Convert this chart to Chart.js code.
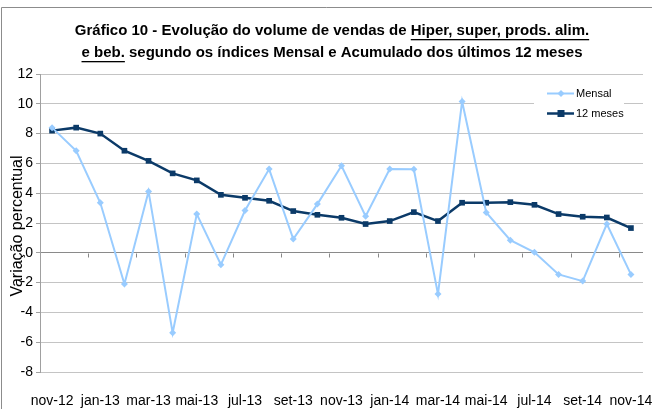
<!DOCTYPE html>
<html>
<head>
<meta charset="utf-8">
<script src="https://cdn.jsdelivr.net/npm/chart.js@4.4.1/dist/chart.umd.min.js"></script>
<style>
html,body{margin:0;padding:0;background:#fff;}
#wrap{position:relative;width:652px;height:409px;}
</style>
</head>
<body>
<div id="wrap"><canvas id="c" width="652" height="409"></canvas></div>
<script>
const categories = ["nov-12","dez-12","jan-13","fev-13","mar-13","abr-13","mai-13","jun-13","jul-13","ago-13","set-13","out-13","nov-13","dez-13","jan-14","fev-14","mar-14","abr-14","mai-14","jun-14","jul-14","ago-14","set-14","out-14","nov-14"];
const mensal = [8.4,6.85,3.36,-2.1,4.12,-5.37,2.6,-0.8,2.84,5.62,0.92,3.27,5.84,2.46,5.62,5.6,-2.77,10.16,2.71,0.85,0.03,-1.45,-1.9,1.93,-1.45];
const meses12 = [8.2,8.4,8.0,6.85,6.17,5.33,4.86,3.89,3.69,3.49,2.8,2.55,2.35,1.93,2.13,2.73,2.13,3.36,3.36,3.4,3.22,2.6,2.42,2.37,1.66];
const yTicks = [12,10,8,6,4,2,0,-2,-4,-6,-8];
const titleLine1 = [["Gráfico 10 - Evolução do volume de vendas de ", false],["Hiper, super, prods. alim.", true]];
const titleLine2 = [["e beb.", true],[" segundo os índices Mensal e Acumulado dos últimos 12 meses", false]];
const yTitle = "Variação percentual";
const seriesNames = ["Mensal","12 meses"];

const FONT = "Arial, 'Liberation Sans', sans-serif";
const LIGHT = "#99ccff";
const DARK = "#0b3a68";

const decor = {
  id: 'decor',
  beforeDraw(chart){
    const ctx = chart.ctx;
    ctx.save();
    ctx.fillStyle = '#fff';
    ctx.fillRect(0,0,chart.width,chart.height);
    ctx.strokeStyle = '#8c8c8c';
    ctx.lineWidth = 1;
    ctx.beginPath();
    ctx.moveTo(1.5,409); ctx.lineTo(1.5,7.5); ctx.lineTo(652,7.5);
    ctx.stroke();
    ctx.restore();
  },
  afterDatasetsDraw(chart){
    const ctx = chart.ctx;
    const x = chart.scales.x, y = chart.scales.y;
    ctx.save();
    const y0 = Math.round(y.getPixelForValue(0)) + 0.5;
    ctx.strokeStyle = '#888';
    ctx.lineWidth = 1;
    ctx.beginPath();
    for (let i = 1; i + 1 < categories.length; i += 2) {
      const px = Math.round((x.getPixelForValue(i) + x.getPixelForValue(i+1)) / 2) + 0.5;
      ctx.moveTo(px, y0); ctx.lineTo(px, y0 + 4);
    }
    ctx.stroke();
    ctx.restore();
  },
  afterDraw(chart){
    const ctx = chart.ctx;
    ctx.save();
    ctx.font = "bold 15px " + FONT;
    ctx.fillStyle = '#000';
    ctx.textBaseline = 'middle';
    const drawLine = (segs, cy) => {
      const total = segs.reduce((s, g) => s + ctx.measureText(g[0]).width, 0);
      let cx = 332 - total / 2;
      for (const [t, u] of segs) {
        const w = ctx.measureText(t).width;
        ctx.textAlign = 'left';
        ctx.fillText(t, cx, cy);
        if (u) {
          ctx.fillRect(cx, cy + 8, w, 1.3);
        }
        cx += w;
      }
    };
    drawLine(titleLine1, 31);
    drawLine(titleLine2, 53);

    ctx.save();
    ctx.translate(18, 226);
    ctx.rotate(-Math.PI/2);
    ctx.font = "16px " + FONT;
    ctx.fillStyle = '#000';
    ctx.textAlign = 'center';
    ctx.textBaseline = 'middle';
    ctx.fillText(yTitle, 0, 0);
    ctx.restore();

    ctx.fillStyle = '#fff';
    ctx.fillRect(534, 82, 90, 42);
    const items = chart.data.datasets;
    items.forEach((ds, i) => {
      const ly = 93.5 + i * 20;
      ctx.strokeStyle = ds.borderColor;
      ctx.lineWidth = ds.borderWidth;
      ctx.beginPath(); ctx.moveTo(547, ly); ctx.lineTo(574, ly); ctx.stroke();
      ctx.fillStyle = ds.backgroundColor;
      if (ds.pointStyle === 'rect') {
        ctx.fillRect(557.5, ly - 3.5, 7, 7);
      } else {
        ctx.beginPath();
        ctx.moveTo(561, ly - 3.5); ctx.lineTo(564.5, ly); ctx.lineTo(561, ly + 3.5); ctx.lineTo(557.5, ly);
        ctx.closePath(); ctx.fill();
      }
      ctx.fillStyle = '#000';
      ctx.font = "11px " + FONT;
      ctx.textAlign = 'left';
      ctx.textBaseline = 'middle';
      ctx.fillText(ds.label, 576, ly);
    });
    ctx.restore();
  }
};

new Chart(document.getElementById('c'), {
  type: 'line',
  data: {
    labels: categories,
    datasets: [
      { label: seriesNames[0], data: mensal, borderColor: LIGHT, backgroundColor: LIGHT, borderWidth: 2,
        pointStyle: 'rectRot', pointRadius: 3.5, pointBorderWidth: 0, tension: 0 },
      { label: seriesNames[1], data: meses12, borderColor: DARK, backgroundColor: DARK, borderWidth: 2.5,
        pointStyle: 'rect', pointRadius: 4, pointBorderWidth: 0, tension: 0 }
    ]
  },
  options: {
    responsive: false,
    animation: false,
    devicePixelRatio: 1,
    layout: { padding: { left: 0, right: 9, top: 74, bottom: 0 } },
    plugins: { legend: { display: false }, title: { display: false }, tooltip: { enabled: false } },
    scales: {
      x: {
        offset: true,
        grid: { display: false },
        border: { display: false },
        ticks: {
          autoSkip: false, maxRotation: 0, minRotation: 0,
          color: '#000', font: { family: FONT, size: 14 }, padding: 13,
          callback: function(v, i){ return i % 2 === 0 ? categories[i] : ''; }
        },
        afterFit: s => { s.height = 37; s.paddingLeft = 0; s.paddingRight = 0; }
      },
      y: {
        min: -8, max: 12,
        afterBuildTicks: s => { s.ticks = yTicks.map(v => ({ value: v })); },
        grid: {
          color: c => (c.tick && c.tick.value === 0) ? '#8a8a8a' : '#c4c4c4',
          tickColor: '#a0a0a0', tickLength: 4
        },
        border: { color: '#a0a0a0' },
        ticks: { color: '#000', font: { family: FONT, size: 14 }, padding: 3 },
        afterFit: s => { s.width = 40; }
      }
    }
  },
  plugins: [decor]
});
</script>
</body>
</html>
